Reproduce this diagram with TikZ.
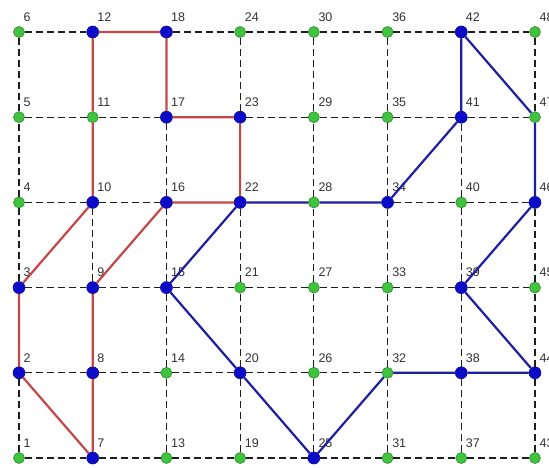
\documentclass[tikz,border=0pt]{standalone}
\usepackage{fontspec}
\setmainfont{Liberation Sans}
\definecolor{gfill}{RGB}{64,196,64}
\definecolor{gdraw}{RGB}{40,140,40}
\definecolor{bfill}{RGB}{12,12,200}
\definecolor{bline}{RGB}{30,30,160}
\definecolor{rline}{RGB}{196,72,72}
\definecolor{gridc}{RGB}{30,30,30}
\definecolor{txt}{RGB}{50,50,50}
\tikzset{
  gnode/.style={circle,fill=gfill,draw=gdraw,line width=0.6pt,minimum size=11pt,inner sep=0pt},
  bnode/.style={circle,fill=bfill,draw=bfill!80!black,line width=0.6pt,minimum size=12pt,inner sep=0pt},
  gridline/.style={draw=gridc,dash pattern=on 7pt off 4pt,line width=1.2pt},
  redpath/.style={draw=rline,line width=2.2pt},
  bluepath/.style={draw=bline,line width=2.2pt},
  lbl/.style={font=\fontsize{12.5}{12.5}\selectfont,text=txt,inner sep=0pt,anchor=west}
}
\begin{document}
\begin{tikzpicture}[x=1pt,y=-1pt]
\useasboundingbox[fill=white] (0,0) rectangle (549,468);
% nodes
\foreach \c in {0,...,7}{
  \foreach \r in {0,...,5}{
    \pgfmathtruncatemacro{\i}{6*\c+\r+1}
    \pgfmathsetmacro{\xx}{19+73.71*\c}
    \pgfmathsetmacro{\yy}{458-85.2*\r}
    \edef\isblue{0}
    \foreach \b in {2,3,7,8,9,10,12,15,16,17,18,20,22,23,25,34,38,39,41,42,44,46}{
      \ifnum\b=\i\relax\global\def\isblue{1}\fi
    }
    \ifnum\isblue=1
      \node[bnode] (n\i) at (\xx,\yy) {};
    \else
      \node[gnode] (n\i) at (\xx,\yy) {};
    \fi
    \node[lbl] (l\i) at (\xx+4.5,\yy-15) {\i};
    \gdef\isblue{0}
  }
}
% grid lines
\foreach \c in {0,...,7}{
  \foreach \r in {0,...,4}{
    \pgfmathtruncatemacro{\a}{6*\c+\r+1}
    \pgfmathtruncatemacro{\b}{\a+1}
    \draw[gridline] (n\a) -- (n\b);
  }
}
\foreach \c in {0,...,6}{
  \foreach \r in {0,...,5}{
    \pgfmathtruncatemacro{\a}{6*\c+\r+1}
    \pgfmathtruncatemacro{\b}{\a+6}
    \draw[gridline] (n\a) -- (n\b);
  }
}
% red loop
\draw[redpath] (n7) -- (n2) -- (n3) -- (n10) -- (n11) -- (n12) -- (n18) -- (n17) -- (n23) -- (n22) -- (n16) -- (n9) -- (n8) -- (n7);
% blue loop
\draw[bluepath] (n22) -- (n15) -- (n20) -- (n25) -- (n32) -- (n38) -- (n44) -- (n39) -- (n46) -- (n47) -- (n42) -- (n41) -- (n34) -- (n28) -- (n22);
\end{tikzpicture}
\end{document}
